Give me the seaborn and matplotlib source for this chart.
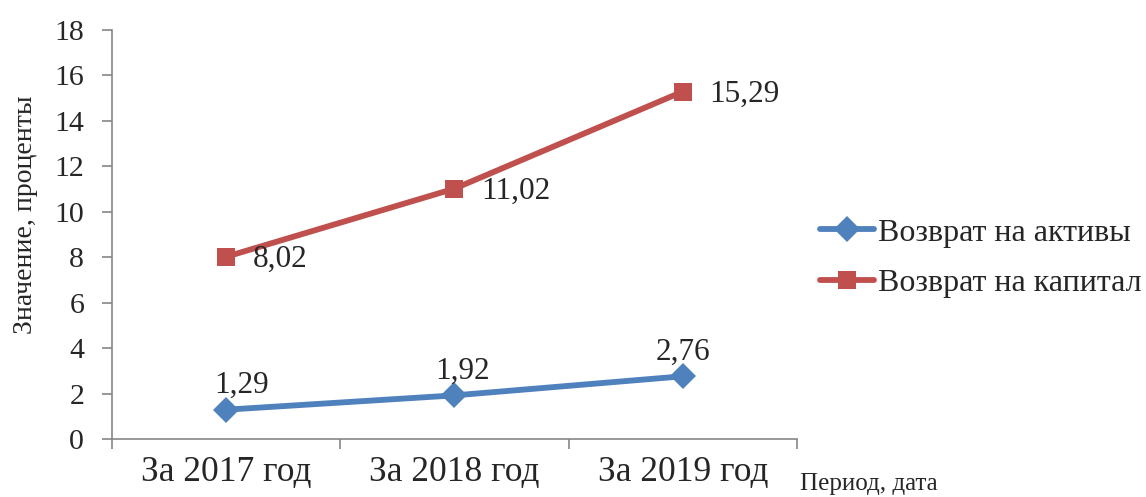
import matplotlib
matplotlib.use("Agg")
import matplotlib.pyplot as plt
import seaborn as sns
import pandas as pd

periods = ["За 2017 год", "За 2018 год", "За 2019 год"]
roa = [1.29, 1.92, 2.76]
roe = [8.02, 11.02, 15.29]
series_names = ["Возврат на активы", "Возврат на капитал"]
y_ticks = [0, 2, 4, 6, 8, 10, 12, 14, 16, 18]

# label offsets (points) for the lower series' value labels
roa_label_dx = [11, 6, 0]

sns.set_style("white")
plt.rcParams["font.family"] = ["Liberation Serif", "DejaVu Serif"]

df = pd.DataFrame({
    "period": periods * 2,
    "x": list(range(len(periods))) * 2,
    "value": roa + roe,
    "series": [series_names[0]] * 3 + [series_names[1]] * 3,
})

palette = {series_names[0]: "#4F81BD", series_names[1]: "#C0504D"}
markers = {series_names[0]: "D", series_names[1]: "s"}

fig = plt.figure(figsize=(11.46, 4.97), dpi=100)
ax = fig.add_axes([112 / 1146, 1 - 439 / 497, (797 - 112) / 1146, (439 - 30) / 497])

sns.lineplot(data=df, x="x", y="value", hue="series", style="series",
             palette=palette, markers=markers, dashes=False, linewidth=4.2,
             markersize=13.5, markeredgewidth=0, ax=ax, legend=True)

# value labels with decimal comma
for xi, (v, dx) in enumerate(zip(roa, roa_label_dx)):
    ax.annotate(f"{v:.2f}".replace(".", ","), (xi, v), xytext=(dx, 7),
                textcoords="offset points", ha="center", va="bottom", fontsize=22.5)
for xi, v in enumerate(roe):
    ax.annotate(f"{v:.2f}".replace(".", ","), (xi, v), xytext=(19, -2),
                textcoords="offset points", ha="left", va="center", fontsize=22.5)

ax.set_xlim(-0.5, 2.5)
ax.set_ylim(0, 18)
ax.set_yticks(y_ticks)
ax.set_yticklabels([str(t) for t in y_ticks], fontsize=21.5)
ax.set_xticks([-0.5, 0.5, 1.5, 2.5], minor=False)
ax.set_xticklabels([])
ax.set_xticks(range(len(periods)), minor=True)
ax.set_xticklabels(periods, minor=True, fontsize=25.5)
ax.tick_params(axis="x", which="minor", bottom=False, length=0, pad=12)
ax.tick_params(axis="x", which="major", bottom=True, length=7, width=1.2,
               color="#868686", direction="out")
ax.tick_params(axis="y", left=True, length=7, width=1.2, color="#868686",
               direction="out", pad=13)
ax.set_xlabel("")
ax.set_ylabel("Значение, проценты", fontsize=20)
ax.yaxis.set_label_coords(-0.108, 0.548)
for side in ["top", "right"]:
    ax.spines[side].set_visible(False)
for side in ["left", "bottom"]:
    ax.spines[side].set_color("#868686")
    ax.spines[side].set_linewidth(1.2)

fig.text(800 / 1146, 1 - 484 / 497, "Период, дата", fontsize=18, ha="left", va="center")

handles, labels = ax.get_legend_handles_labels()
ax.legend(handles, labels, loc="center left", bbox_to_anchor=(820 / 1146, 1 - 258 / 497),
          bbox_transform=fig.transFigure, frameon=False, fontsize=23,
          handlelength=1.7, handletextpad=0.1, labelspacing=0.65, borderaxespad=0,
          borderpad=0)

fig.savefig("out.png", dpi=100)
